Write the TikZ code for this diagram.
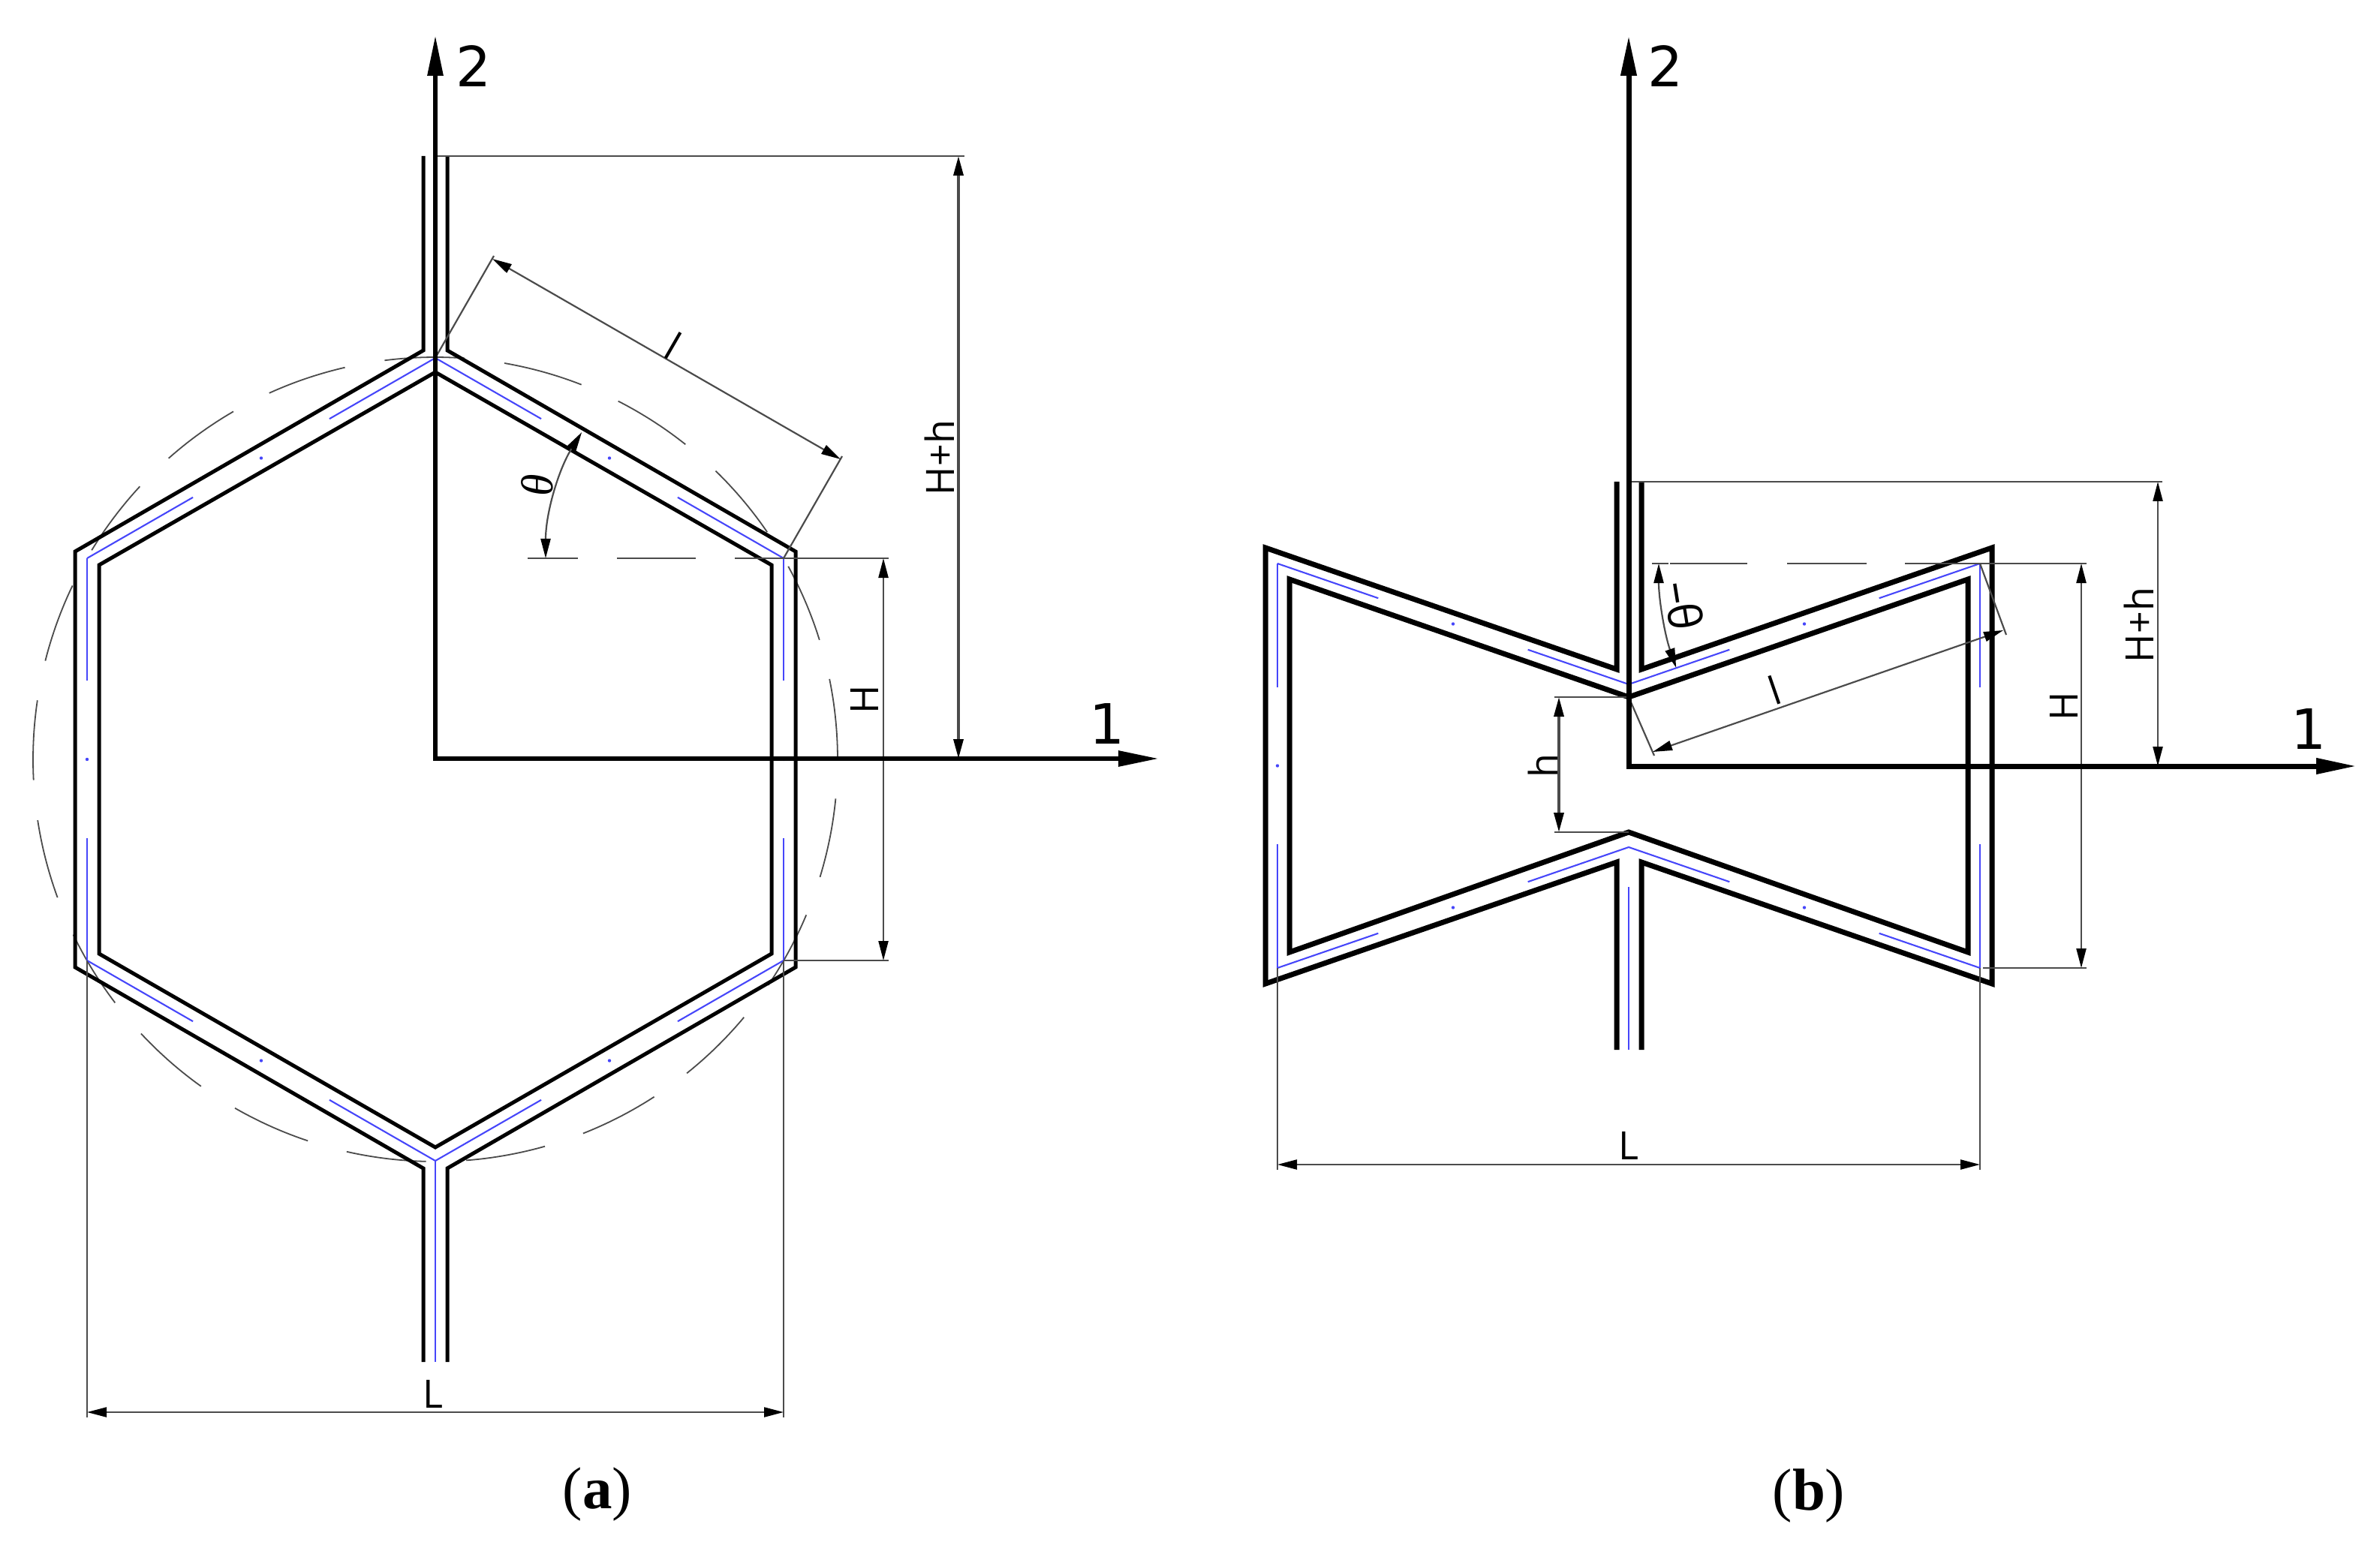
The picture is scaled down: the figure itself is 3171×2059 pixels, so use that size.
\documentclass[tikz,border=0pt]{standalone}
\usepackage{fontspec}
\setmainfont{Liberation Serif}
\newfontfamily\labfont{Open Sans}
\newfontfamily\numfont{DejaVu Sans}
\usetikzlibrary{arrows.meta,calc}
\definecolor{cblue}{RGB}{70,70,250}
\definecolor{cdim}{RGB}{75,75,75}
\tikzset{
  wallA/.style={line width=2.5pt,black,line join=miter},
  wallB/.style={line width=3.5pt,black,line join=miter},
  axisA/.style={line width=3pt,black,{Triangle[length=27pt,width=10pt]}-{Triangle[length=27pt,width=10pt]}},
  axisB/.style={line width=3.5pt,black,{Triangle[length=27pt,width=10pt]}-{Triangle[length=27pt,width=10pt]}},
  blueline/.style={line width=1.05pt,cblue},
  dimline/.style={line width=1.1pt,cdim},
  dimarrow/.style={line width=1.1pt,cdim,{Triangle[length=13pt,width=6.5pt,black]}-{Triangle[length=13pt,width=6.5pt,black]}},
  dimthick/.style={dimarrow,line width=1.7pt},
  circdash/.style={line width=0.9pt,cdim},
  lab/.style={inner sep=0pt,font=\labfont\fontsize{26}{26}\selectfont},
  numlab/.style={inner sep=0pt,font=\numfont\fontsize{37}{37}\selectfont},
  caplab/.style={inner sep=0pt,anchor=base,font=\fontsize{39.5}{40}\selectfont},
}
\newcommand{\bluespan}[3]{%
  \draw[blueline] (#1) -- ($(#1)!#3!(#2)$);
  \draw[blueline] (#2) -- ($(#2)!#3!(#1)$);
  \fill[cblue] ($(#1)!0.5!(#2)$) circle[radius=1.1pt];
}
\begin{document}
\begin{tikzpicture}[x=0.5pt,y=-0.5pt]
\useasboundingbox (0,0) rectangle (3171,2059);

%% ---------- (a) ----------
\coordinate (ao) at (580,1011);
\coordinate (a2) at (580,47);
\coordinate (a1) at (1544,1011);
% centre line
\coordinate (c1) at (580,477);
\coordinate (c2) at (1044,744);
\coordinate (c3) at (1044,1280);
\coordinate (c4) at (580,1547);
\coordinate (c5) at (116,1280);
\coordinate (c6) at (116,744);
\coordinate (c7) at (580,1815);

% dashed circle
\foreach \k in {0,...,20}{
  \pgfmathsetmacro\st{9.9+17.143*\k}
  \pgfmathsetmacro\en{\st+11.4}
  \draw[circdash] plot[domain=\st:\en,samples=14] ({580+536*sin(\x)},{1012-536*cos(\x)});
}

\bluespan{c1}{c2}{0.304}
\bluespan{c2}{c3}{0.304}
\bluespan{c3}{c4}{0.304}
\bluespan{c4}{c5}{0.304}
\bluespan{c5}{c6}{0.304}
\bluespan{c6}{c1}{0.304}
\draw[blueline] (c4) -- (c7);

% walls
\draw[wallA] (564,208) -- (564,467) -- (100,735) -- (100,1289) -- (564,1557) -- (564,1815);
\draw[wallA] (596,208) -- (596,467) -- (1060,735) -- (1060,1289) -- (596,1557) -- (596,1815);
\draw[wallA] (580,496) -- (1028,753) -- (1028,1271) -- (580,1529) -- (132,1271) -- (132,753) -- cycle;

% dimensions
\coordinate (atop) at (580,208);
\coordinate (atopE) at (1285,208);
\coordinate (aHHt) at (1277,208);
\coordinate (aHHb) at (1277,1011);
\draw[dimline] (atop) -- (atopE);
\draw[dimthick] (aHHt) -- (aHHb);
\node[lab,rotate=90] (aHHl) at (1252,610) {H+h};

\coordinate (aHt) at (1177,744);
\coordinate (aHb) at (1177,1280);
\draw[dimline] (c2) -- (1184,744);
\draw[dimline] (c3) -- (1184,1280);
\draw[dimline,line width=1.2pt,dash pattern=on 33.5pt off 26pt on 52.5pt off 26pt] (703,744) -- (1044,744);
\draw[dimarrow] (aHt) -- (aHb);
\node[lab,rotate=90] (aHl) at (1152,932) {H};

\coordinate (al1) at (656,345);
\coordinate (al2) at (1120,612);
\coordinate (al1x) at (658,341);
\coordinate (al2x) at (1122,608);
\draw[dimline] (c1) -- (al1x);
\draw[dimline] (c2) -- (al2x);
\draw[dimarrow] (al1) -- (al2);
\node[lab,rotate=-30] (all) at (897,461) {l};

\coordinate (at1) at (727,744);
\draw[dimarrow] (at1) arc[start angle=180,end angle=148,radius=158.5pt];
\node[inner sep=0pt,rotate=90,font=\fontsize{30}{30}\selectfont\itshape] (atl) at (716,647) {θ};

\coordinate (aLl) at (116,1882);
\coordinate (aLr) at (1044,1882);
\draw[dimline] (c5) -- (116,1889);
\draw[dimline] (c3) -- (1044,1889);
\draw[dimarrow] (aLl) -- (aLr);
\node[lab] (aLt) at (577,1858) {L};

% axes
\draw[axisA] (a2) -- (ao) -- (a1);
\node[numlab] (a2l) at (631,88) {2};
\node[numlab] (a1l) at (1475,965) {1};
\node[caplab] (acap) at (796,2010) {(\textbf{a})};

%% ---------- (b) ----------
\coordinate (bo) at (2170,1021);
\coordinate (b2) at (2170,47);
\coordinate (b1) at (3140,1021);
\coordinate (d1) at (2170,912);
\coordinate (d2) at (2638,751);
\coordinate (d3) at (2638,1290);
\coordinate (d4) at (2170,1129);
\coordinate (d5) at (1702,1290);
\coordinate (d6) at (1702,751);
\coordinate (d7) at (2170,1182);
\coordinate (d8) at (2170,1399);

\bluespan{d1}{d2}{0.287}
\bluespan{d2}{d3}{0.306}
\bluespan{d3}{d4}{0.287}
\bluespan{d4}{d5}{0.287}
\bluespan{d5}{d6}{0.306}
\bluespan{d6}{d1}{0.287}
\draw[blueline] (d7) -- (d8);

\draw[wallB] (2154,642) -- (2154,892) -- (1686,730) -- (1686,1311) -- (2154,1149) -- (2154,1399);
\draw[wallB] (2187,642) -- (2187,892) -- (2654,730) -- (2654,1311) -- (2187,1149) -- (2187,1399);
\draw[wallB] (2170,929) -- (2622,772) -- (2622,1269) -- (2170,1109) -- (1718,1269) -- (1718,772) -- cycle;

% dimensions
\coordinate (btop) at (2170,642);
\coordinate (btopE) at (2881,642);
\coordinate (bHHt) at (2875,642);
\coordinate (bHHb) at (2875,1021);
\draw[dimline] (btop) -- (btopE);
\draw[dimarrow] (bHHt) -- (bHHb);
\node[lab,rotate=90] (bHHl) at (2850,833) {H+h};

\coordinate (bHt) at (2773,751);
\coordinate (bHb) at (2773,1290);
\draw[dimline,line width=1.2pt] (2201,751) -- (2223,751);
\draw[dimline,line width=1.2pt] (2225,751) -- (2328,751);
\draw[dimline,line width=1.2pt] (2381,751) -- (2487,751);
\draw[dimline,line width=1.2pt] (2538,751) -- (2780,751);
\draw[dimline] (2642,1290) -- (2780,1290);
\draw[dimarrow] (bHt) -- (bHb);
\node[lab,rotate=90] (bHl) at (2750,941) {H};

\coordinate (ba) at (2170,929);
\coordinate (bl1) at (2202,1002);
\coordinate (bl2) at (2669,840);
\draw[dimline] (ba) -- (2204,1007);
\draw[dimline] (d2) -- (2673,846);
\draw[dimarrow] (bl1) -- (bl2);
\node[lab,rotate=19] (bll) at (2364,920) {l};

\coordinate (bt1) at (2210,751);
\draw[dimarrow] (bt1) arc[start angle=180,end angle=199,radius=213.5pt];
\node[inner sep=0pt,rotate=-81,font=\labfont\fontsize{30}{30}\selectfont] (btl) at (2243,807) {–θ};

\coordinate (bhh1) at (2077,929);
\coordinate (bhh2) at (2077,1109);
\draw[dimline] (2071,929) -- (ba);
\draw[dimline] (2071,1109) -- (2170,1109);
\draw[dimthick] (bhh1) -- (bhh2);
\node[lab,rotate=90] (bhl) at (2056,1021) {h};

\coordinate (bLl) at (1702,1552);
\coordinate (bLr) at (2638,1552);
\draw[dimline] (d5) -- (1702,1559);
\draw[dimline] (d3) -- (2638,1559);
\draw[dimarrow] (bLl) -- (bLr);
\node[lab] (bLt) at (2170,1527) {L};

% axes
\draw[axisB] (b2) -- (bo) -- (b1);
\node[numlab] (b2l) at (2219,88) {2};
\node[numlab] (b1l) at (3076,972) {1};
\node[caplab] (bcap) at (2410,2012) {(\textbf{b})};
\end{tikzpicture}
\end{document}
